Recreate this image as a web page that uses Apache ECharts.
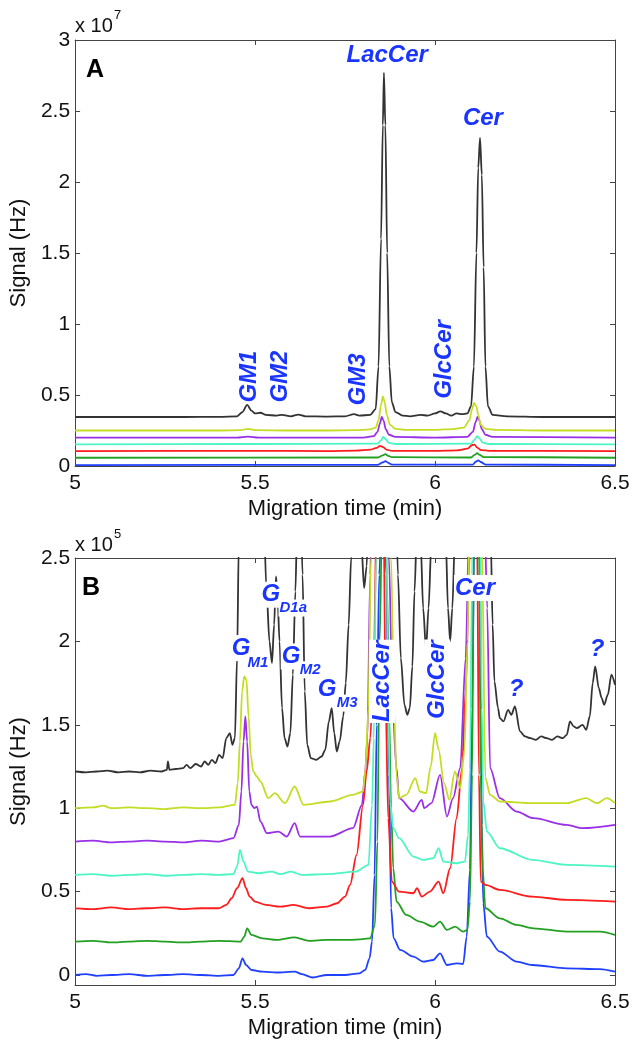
<!DOCTYPE html>
<html>
<head>
<meta charset="utf-8">
<script src="https://cdn.jsdelivr.net/npm/echarts@6/dist/echarts.min.js"></script>
<style>
html,body{margin:0;padding:0;background:#fff;}
#chart{width:638px;height:1042px;}
</style>
</head>
<body>
<div id="chart"></div>
<script>
// ---------- tick labels ----------
const xTicks = [5, 5.5, 6, 6.5];
const yTicksA = [0, 0.5, 1, 1.5, 2, 2.5, 3];      // x 10^7
const yTicksB = [0, 0.5, 1, 1.5, 2, 2.5];         // x 10^5

// ---------- Panel A traces [time (min), signal (x10^7 Hz)] ----------
const blackA = [[5.00,0.345],[5.10,0.345],[5.20,0.345],[5.30,0.345],[5.40,0.346],[5.45,0.35],[5.465,0.38],[5.478,0.43],[5.49,0.39],[5.50,0.37],[5.515,0.375],[5.53,0.36],[5.56,0.355],[5.575,0.36],[5.60,0.35],[5.62,0.362],[5.64,0.35],[5.70,0.348],[5.75,0.35],[5.775,0.365],[5.79,0.355],[5.82,0.36],[5.835,0.40],[5.843,0.7],[5.85,1.6],[5.855,2.4],[5.858,2.77],[5.862,2.4],[5.867,1.5],[5.873,0.7],[5.88,0.45],[5.89,0.38],[5.91,0.355],[5.93,0.35],[5.96,0.36],[5.98,0.355],[6.00,0.37],[6.015,0.385],[6.03,0.37],[6.045,0.355],[6.06,0.37],[6.075,0.365],[6.09,0.37],[6.10,0.42],[6.108,0.7],[6.115,1.5],[6.12,2.1],[6.125,2.31],[6.13,2.05],[6.135,1.4],[6.14,0.7],[6.147,0.42],[6.16,0.36],[6.20,0.35],[6.30,0.345],[6.40,0.345],[6.50,0.345]];
const yellowA = [[5.00,0.25],[5.40,0.25],[5.46,0.252],[5.48,0.262],[5.50,0.253],[5.60,0.25],[5.70,0.25],[5.78,0.252],[5.82,0.258],[5.835,0.27],[5.843,0.32],[5.85,0.43],[5.855,0.49],[5.86,0.45],[5.866,0.36],[5.875,0.29],[5.89,0.262],[5.92,0.255],[6.00,0.255],[6.05,0.26],[6.08,0.27],[6.095,0.32],[6.103,0.40],[6.108,0.445],[6.115,0.42],[6.12,0.36],[6.127,0.29],[6.14,0.262],[6.17,0.255],[6.30,0.25],[6.50,0.25]];
const purpleA = [[5.00,0.20],[5.45,0.20],[5.48,0.207],[5.51,0.20],[5.80,0.20],[5.83,0.21],[5.84,0.24],[5.847,0.30],[5.852,0.345],[5.857,0.32],[5.863,0.26],[5.872,0.22],[5.89,0.205],[6.00,0.20],[6.09,0.205],[6.105,0.24],[6.113,0.31],[6.118,0.345],[6.123,0.32],[6.13,0.26],[6.14,0.22],[6.16,0.205],[6.50,0.20]];
const aquaA = [[5.00,0.152],[5.48,0.155],[5.84,0.158],[5.85,0.18],[5.856,0.205],[5.862,0.19],[5.872,0.163],[5.89,0.155],[6.10,0.158],[6.11,0.185],[6.117,0.21],[6.123,0.195],[6.133,0.165],[6.15,0.155],[6.50,0.152]];
const redA = [[5.00,0.105],[5.48,0.107],[5.70,0.105],[5.78,0.108],[5.82,0.115],[5.838,0.128],[5.847,0.142],[5.855,0.135],[5.865,0.115],[5.88,0.107],[6.00,0.106],[6.06,0.11],[6.09,0.122],[6.103,0.148],[6.11,0.15],[6.117,0.13],[6.128,0.112],[6.15,0.107],[6.50,0.105]];
const greenA = [[5.00,0.058],[5.84,0.06],[5.855,0.075],[5.862,0.083],[5.87,0.072],[5.88,0.062],[6.10,0.06],[6.11,0.078],[6.117,0.09],[6.124,0.078],[6.135,0.063],[6.50,0.058]];
const blueA = [[5.00,0.006],[5.84,0.008],[5.855,0.025],[5.862,0.035],[5.87,0.022],[5.88,0.01],[6.105,0.01],[6.113,0.03],[6.12,0.04],[6.127,0.028],[6.14,0.01],[6.50,0.006]];

// ---------- Panel B traces [time (min), signal (x10^5 Hz)] ----------
const blueB = [[5.00,0.0],[5.03,0.005],[5.06,-0.005],[5.10,0.0],[5.15,0.005],[5.20,-0.005],[5.25,0.0],[5.30,0.005],[5.35,0.0],[5.40,-0.005],[5.44,0.0],[5.455,0.04],[5.465,0.10],[5.475,0.06],[5.49,0.03],[5.52,0.02],[5.56,0.015],[5.61,0.02],[5.63,0.005],[5.66,-0.015],[5.70,0.0],[5.75,0.0],[5.79,0.01],[5.806,0.03],[5.818,0.1],[5.825,0.2],[5.832,0.6],[5.838,1.5],[5.845,2.4],[5.855,3.0],[5.865,2.4],[5.872,1.2],[5.878,0.4],[5.885,0.22],[5.903,0.15],[5.94,0.11],[5.967,0.08],[5.995,0.09],[6.014,0.13],[6.033,0.06],[6.06,0.07],[6.078,0.065],[6.088,0.23],[6.097,0.63],[6.103,1.6],[6.11,2.8],[6.118,3.4],[6.124,2.6],[6.13,0.9],[6.134,0.43],[6.144,0.23],[6.18,0.14],[6.227,0.08],[6.27,0.06],[6.366,0.04],[6.458,0.035],[6.50,0.02]];
const greenB = [[5.00,0.20],[5.05,0.205],[5.10,0.195],[5.15,0.20],[5.20,0.205],[5.25,0.20],[5.30,0.195],[5.35,0.20],[5.40,0.205],[5.46,0.20],[5.47,0.23],[5.478,0.28],[5.49,0.24],[5.52,0.22],[5.56,0.21],[5.61,0.225],[5.65,0.205],[5.70,0.21],[5.76,0.21],[5.80,0.215],[5.82,0.22],[5.833,0.30],[5.84,0.8],[5.846,2.0],[5.852,2.6],[5.86,2.7],[5.866,2.4],[5.872,1.6],[5.878,1.0],[5.884,0.64],[5.893,0.44],[5.92,0.36],[5.958,0.32],[5.995,0.29],[6.014,0.32],[6.033,0.27],[6.056,0.29],[6.078,0.26],[6.09,0.27],[6.097,0.44],[6.103,1.2],[6.108,2.6],[6.116,3.4],[6.122,2.6],[6.127,1.2],[6.132,0.64],[6.14,0.40],[6.18,0.34],[6.227,0.30],[6.273,0.28],[6.366,0.26],[6.458,0.26],[6.50,0.24]];
const redB = [[5.00,0.40],[5.05,0.395],[5.10,0.405],[5.15,0.395],[5.20,0.40],[5.25,0.405],[5.30,0.395],[5.35,0.40],[5.40,0.40],[5.42,0.42],[5.435,0.46],[5.45,0.52],[5.465,0.58],[5.475,0.52],[5.485,0.47],[5.50,0.44],[5.53,0.42],[5.57,0.41],[5.607,0.42],[5.65,0.40],[5.70,0.41],[5.728,0.43],[5.75,0.47],[5.764,0.54],[5.782,0.72],[5.80,1.02],[5.81,1.22],[5.82,1.42],[5.83,1.9],[5.838,2.8],[5.848,4.1],[5.856,3.0],[5.863,1.6],[5.87,0.94],[5.88,0.56],[5.90,0.50],[5.94,0.49],[5.95,0.52],[5.963,0.47],[5.986,0.50],[6.01,0.56],[6.023,0.49],[6.042,0.64],[6.06,0.94],[6.075,1.24],[6.085,1.7],[6.095,2.4],[6.103,3.6],[6.11,5.2],[6.117,2.6],[6.122,1.2],[6.127,0.56],[6.14,0.54],[6.18,0.51],[6.27,0.47],[6.366,0.45],[6.50,0.44]];
const aquaB = [[5.00,0.60],[5.05,0.605],[5.10,0.595],[5.15,0.60],[5.20,0.605],[5.25,0.595],[5.30,0.60],[5.35,0.605],[5.40,0.60],[5.44,0.605],[5.45,0.65],[5.458,0.75],[5.468,0.68],[5.48,0.62],[5.51,0.61],[5.546,0.62],[5.57,0.605],[5.60,0.62],[5.63,0.60],[5.70,0.605],[5.78,0.62],[5.815,0.66],[5.825,1.02],[5.83,1.42],[5.836,2.5],[5.845,4.5],[5.855,5.6],[5.862,4.0],[5.868,2.0],[5.875,1.04],[5.884,0.88],[5.90,0.82],[5.94,0.71],[5.967,0.69],[5.995,0.70],[6.01,0.76],[6.023,0.68],[6.06,0.67],[6.083,0.68],[6.092,0.84],[6.097,1.24],[6.103,2.4],[6.11,4.5],[6.117,6.4],[6.124,3.2],[6.13,1.6],[6.134,1.04],[6.144,0.86],[6.18,0.76],[6.27,0.69],[6.366,0.66],[6.50,0.65]];
const purpleB = [[5.00,0.80],[5.05,0.805],[5.10,0.795],[5.15,0.80],[5.20,0.805],[5.25,0.80],[5.30,0.795],[5.35,0.805],[5.40,0.80],[5.44,0.82],[5.455,0.9],[5.462,1.1],[5.468,1.4],[5.473,1.55],[5.478,1.4],[5.484,1.1],[5.49,1.02],[5.498,1.0],[5.505,1.01],[5.515,0.92],[5.533,0.85],[5.565,0.86],[5.588,0.83],[5.61,0.91],[5.625,0.83],[5.708,0.83],[5.772,0.88],[5.797,1.02],[5.806,1.22],[5.812,1.42],[5.82,2.4],[5.83,4.0],[5.845,15.3],[5.86,6.0],[5.872,2.5],[5.882,1.6],[5.893,1.24],[5.90,1.06],[5.94,0.98],[5.963,1.05],[5.97,1.0],[5.99,1.03],[6.014,1.20],[6.033,0.95],[6.05,1.06],[6.07,1.24],[6.085,1.9],[6.095,2.7],[6.117,15.3],[6.135,3.0],[6.145,2.2],[6.153,1.24],[6.18,1.06],[6.227,0.98],[6.273,0.94],[6.366,0.90],[6.41,0.88],[6.50,0.90]];
const yellowB = [[5.00,1.00],[5.05,1.005],[5.078,1.015],[5.10,1.0],[5.15,1.005],[5.20,1.0],[5.25,0.995],[5.30,1.005],[5.35,1.0],[5.40,1.005],[5.444,1.02],[5.452,1.15],[5.458,1.4],[5.464,1.7],[5.47,1.79],[5.476,1.77],[5.482,1.55],[5.488,1.32],[5.495,1.22],[5.505,1.19],[5.515,1.16],[5.537,1.06],[5.555,1.09],[5.583,1.03],[5.61,1.13],[5.635,1.02],[5.708,1.04],[5.772,1.08],[5.80,1.10],[5.806,1.22],[5.815,1.6],[5.822,2.5],[5.835,8.0],[5.855,25.0],[5.87,8.0],[5.878,2.5],[5.886,1.6],[5.893,1.2],[5.90,1.06],[5.92,1.08],[5.945,1.18],[5.958,1.10],[5.975,1.09],[5.988,1.25],[6.0,1.45],[6.01,1.35],[6.025,1.15],[6.04,1.05],[6.055,1.22],[6.07,1.12],[6.082,1.35],[6.09,2.0],[6.098,3.0],[6.108,20.5],[6.12,8.0],[6.13,2.6],[6.14,1.18],[6.153,1.08],[6.18,1.04],[6.27,1.03],[6.366,1.03],[6.42,1.06],[6.45,1.03],[6.477,1.06],[6.50,1.03]];
const blackB = [[5.00,1.22],[5.03,1.215],[5.06,1.22],[5.09,1.225],[5.12,1.215],[5.15,1.22],[5.18,1.215],[5.21,1.225],[5.24,1.22],[5.255,1.23],[5.258,1.28],[5.262,1.23],[5.28,1.235],[5.30,1.24],[5.31,1.26],[5.32,1.24],[5.335,1.265],[5.35,1.25],[5.36,1.28],[5.37,1.26],[5.38,1.29],[5.39,1.27],[5.40,1.32],[5.41,1.30],[5.42,1.42],[5.43,1.45],[5.437,1.38],[5.444,1.42],[5.45,1.9],[5.455,2.6],[5.462,5.0],[5.478,9.7],[5.50,5.0],[5.522,2.9],[5.532,2.3],[5.54,2.0],[5.547,1.87],[5.553,2.1],[5.558,2.39],[5.562,2.3],[5.568,2.0],[5.575,1.6],[5.582,1.42],[5.59,1.37],[5.598,1.45],[5.605,1.8],[5.612,2.3],[5.617,2.7],[5.625,3.0],[5.632,2.4],[5.638,1.7],[5.645,1.38],[5.655,1.30],[5.67,1.29],[5.685,1.31],[5.695,1.35],[5.705,1.52],[5.713,1.60],[5.72,1.45],[5.727,1.34],[5.735,1.40],[5.745,1.55],[5.752,1.75],[5.76,2.1],[5.767,2.5],[5.775,2.9],[5.785,2.9],[5.795,2.6],[5.803,2.32],[5.81,2.45],[5.815,2.8],[5.825,5.0],[5.858,243],[5.88,4.0],[5.89,3.0],[5.897,2.4],[5.905,1.9],[5.915,1.62],[5.923,1.56],[5.93,1.6],[5.937,1.85],[5.943,2.3],[5.95,2.7],[5.96,2.6],[5.967,2.2],[5.975,1.95],[5.982,2.2],[5.99,2.6],[6.00,3.0],[6.02,3.0],[6.03,2.6],[6.036,2.2],[6.042,2.0],[6.048,2.2],[6.055,2.6],[6.07,3.5],[6.125,198],[6.15,3.5],[6.155,2.6],[6.16,2.1],[6.165,1.76],[6.175,1.6],[6.18,1.54],[6.19,1.52],[6.203,1.59],[6.212,1.56],[6.222,1.61],[6.236,1.46],[6.25,1.43],[6.265,1.42],[6.28,1.41],[6.295,1.43],[6.31,1.42],[6.325,1.41],[6.34,1.43],[6.355,1.42],[6.366,1.44],[6.375,1.52],[6.385,1.49],[6.394,1.48],[6.41,1.50],[6.42,1.47],[6.43,1.55],[6.438,1.75],[6.445,1.85],[6.455,1.72],[6.463,1.66],[6.47,1.62],[6.48,1.68],[6.49,1.80],[6.50,1.74]];

// ---------- annotations [time, signal, text, rotation, kind] ----------
const annotA = [
  [5.867, 2.89, 'LacCer', 0, 'main'],
  [6.133, 2.45, 'Cer', 0, 'main'],
  [5.483, 0.63, 'GM1', 90, 'main'],
  [5.569, 0.63, 'GM2', 90, 'main'],
  [5.786, 0.61, 'GM3', 90, 'main'],
  [6.025, 0.75, 'GlcCer', 90, 'main']
];
const annotB = [
  [5.461, 1.96, 'G', 0, 'main'], [5.508, 1.87, 'M1', 0, 'sub'],
  [5.544, 2.28, 'G', 0, 'main'], [5.606, 2.20, 'D1a', 0, 'sub'],
  [5.600, 1.91, 'G', 0, 'main'], [5.653, 1.83, 'M2', 0, 'sub'],
  [5.700, 1.71, 'G', 0, 'main'], [5.756, 1.63, 'M3', 0, 'sub'],
  [5.853, 1.76, 'LacCer', 90, 'main'],
  [6.006, 1.77, 'GlcCer', 90, 'main'],
  [6.111, 2.32, 'Cer', 0, 'main'],
  [6.225, 1.71, '?', 0, 'main'],
  [6.450, 1.95, '?', 0, 'main']
];

const FONT = "'Liberation Sans', Arial, Helvetica, sans-serif";
const AX = '#444';
const LBL = '#1a35ff';
const colors = {black:'#333333', yellow:'#c5dc25', purple:'#9a2fe8', aqua:'#4cf5c4', red:'#ff1c1c', green:'#22a022', blue:'#2040ff'};

const chart = echarts.init(document.getElementById('chart'), null, {renderer:'canvas'});

function xAxisDef(grid, pos, main) {
  return {
    gridIndex: grid, type: 'value', min: 5, max: 6.5, interval: 0.5, position: pos,
    axisLine: {onZero: false, lineStyle: {color: AX, width: 1}},
    axisTick: {inside: true, length: 5, lineStyle: {color: AX}},
    axisLabel: {show: main, color: '#111', fontSize: 21, fontFamily: FONT, margin: 7},
    splitLine: {show: false},
    name: main ? 'Migration time (min)' : '', nameLocation: 'middle', nameGap: 32,
    nameTextStyle: {color: '#111', fontSize: 22, fontFamily: FONT}
  };
}
function yAxisDef(grid, pos, main, ticks, min, max) {
  return {
    gridIndex: grid, type: 'value', min: min, max: max, position: pos,
    axisLine: {onZero: false, lineStyle: {color: AX, width: 1}},
    axisTick: {inside: true, length: 5, lineStyle: {color: AX}, customValues: ticks},
    axisLabel: {show: main, color: '#111', fontSize: 21, fontFamily: FONT, margin: 5, customValues: ticks},
    splitLine: {show: false},
    name: main ? 'Signal (Hz)' : '', nameLocation: 'middle', nameGap: 42,
    nameTextStyle: {color: '#111', fontSize: 22, fontFamily: FONT}
  };
}

function lineSeries(data, color, grid) {
  return {
    type: 'line', data: data, xAxisIndex: grid, yAxisIndex: grid,
    showSymbol: false, symbol: 'none', smooth: 0.3, smoothMonotone: 'x',
    lineStyle: {color: color, width: 1.8}, clip: true, animation: false, z: 2
  };
}

function annotSeries(list, grid, withBg) {
  return {
    type: 'scatter', xAxisIndex: grid, yAxisIndex: grid, z: 10, animation: false,
    symbolSize: 0.1, itemStyle: {color: '#fff', opacity: 1}, silent: true,
    data: list.map(a => ({
      value: [a[0], a[1]],
      label: {
        show: true, position: 'inside', formatter: a[2], rotate: a[3],
        align: 'center', verticalAlign: 'middle', opacity: 1,
        color: LBL, fontFamily: FONT, fontWeight: 'bold', fontStyle: 'italic',
        fontSize: a[4] === 'sub' ? 15 : 24,
        backgroundColor: withBg ? '#ffffff' : 'transparent',
        padding: withBg ? [1, 1, 1, 1] : 0
      }
    }))
  };
}

const option = {
  backgroundColor: '#fff',
  animation: false,
  grid: [
    {left: 75, top: 40, width: 540, height: 426},
    {left: 75, top: 558, width: 540, height: 427}
  ],
  xAxis: [
    xAxisDef(0, 'bottom', true), xAxisDef(1, 'bottom', true),
    xAxisDef(0, 'top', false), xAxisDef(1, 'top', false)
  ],
  yAxis: [
    yAxisDef(0, 'left', true, yTicksA, 0, 3), yAxisDef(1, 'left', true, yTicksB, -0.06, 2.5),
    yAxisDef(0, 'right', false, yTicksA, 0, 3), yAxisDef(1, 'right', false, yTicksB, -0.06, 2.5)
  ],
  series: [
    lineSeries(blueA, colors.blue, 0), lineSeries(greenA, colors.green, 0), lineSeries(redA, colors.red, 0),
    lineSeries(aquaA, colors.aqua, 0), lineSeries(purpleA, colors.purple, 0), lineSeries(yellowA, colors.yellow, 0),
    lineSeries(blackA, colors.black, 0),
    lineSeries(blueB, colors.blue, 1), lineSeries(greenB, colors.green, 1), lineSeries(redB, colors.red, 1),
    lineSeries(aquaB, colors.aqua, 1), lineSeries(purpleB, colors.purple, 1), lineSeries(yellowB, colors.yellow, 1),
    lineSeries(blackB, colors.black, 1),
    annotSeries(annotA, 0, false),
    annotSeries(annotB, 1, true)
  ],
  graphic: [
    {type: 'text', left: 75, top: 16, style: {text: 'x 10', font: '20px ' + FONT, fill: '#111'}},
    {type: 'text', left: 114, top: 9, style: {text: '7', font: '13px ' + FONT, fill: '#111'}},
    {type: 'text', left: 86, top: 58, style: {text: 'A', font: 'bold 25px ' + FONT, fill: '#000'}},
    {type: 'text', left: 75, top: 535, style: {text: 'x 10', font: '20px ' + FONT, fill: '#111'}},
    {type: 'text', left: 114, top: 528, style: {text: '5', font: '13px ' + FONT, fill: '#111'}},
    {type: 'text', left: 82, top: 576, style: {text: 'B', font: 'bold 25px ' + FONT, fill: '#000'}}
  ]
};
chart.setOption(option);
</script>
</body>
</html>
